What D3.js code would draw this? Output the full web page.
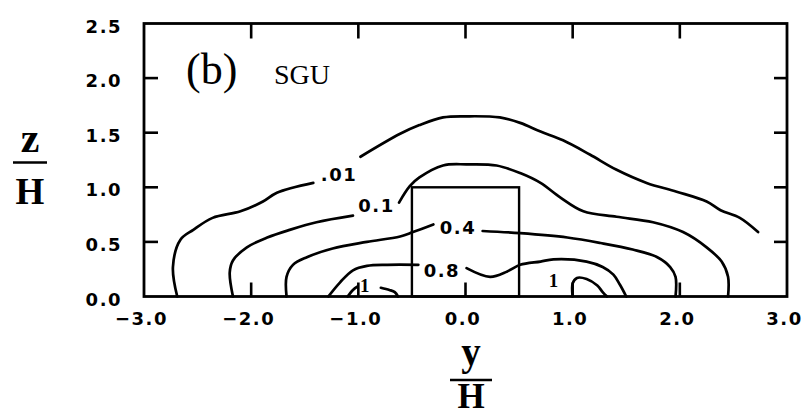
<!DOCTYPE html>
<html>
<head>
<meta charset="utf-8">
<script src="https://cdn.jsdelivr.net/npm/d3@7/dist/d3.min.js"></script>
<style>
  html, body { margin: 0; padding: 0; background: #fff; }
  svg { display: block; }
  .num { font-family: "DejaVu Sans", sans-serif; font-weight: bold; font-size: 18px; letter-spacing: 1.5px; fill: #000; }
  .serif { font-family: "Liberation Serif", "Times New Roman", serif; fill: #000; }
</style>
</head>
<body>
<svg id="chart" width="803" height="415"></svg>
<script>
// Concentration contours (y/H, z/H); null marks a break where a level label sits.
const level001 = [[-2.69,0],[-2.73,0.27],[-2.66,0.52],[-2.54,0.61],[-2.36,0.72],[-2.10,0.78],[-1.89,0.87],[-1.76,0.95],[-1.42,1.04],null,
  [-0.98,1.28],[-0.61,1.49],[-0.43,1.57],[-0.21,1.64],[0.01,1.65],[0.32,1.64],[0.51,1.59],[0.70,1.51],[0.91,1.43],[1.16,1.30],
  [1.41,1.16],[1.69,1.04],[1.97,0.96],[2.25,0.87],[2.38,0.79],[2.56,0.72],[2.73,0.59]];
const level01 = [[-2.17,0],[-2.20,0.22],[-2.17,0.33],[-2.04,0.45],[-1.85,0.54],[-1.64,0.61],[-1.39,0.68],[-1.05,0.74],null,
  [-0.62,0.86],[-0.52,1.01],[-0.43,1.09],[-0.21,1.20],[0.01,1.21],[0.29,1.20],[0.51,1.13],[0.70,1.04],[0.88,0.91],[1.10,0.78],
  [1.41,0.73],[1.75,0.68],[2.03,0.59],[2.25,0.45],[2.39,0.32],[2.45,0.18],[2.45,0]];
const level04 = [[-1.67,0],[-1.67,0.18],[-1.61,0.29],[-1.48,0.36],[-1.24,0.44],[-0.92,0.50],[-0.61,0.55],[-0.49,0.59],[-0.30,0.66],null,
  [0.16,0.60],[0.51,0.58],[0.95,0.54],[1.26,0.49],[1.56,0.43],[1.79,0.36],[1.91,0.27],[1.96,0.18],[1.96,0]];
const level08 = [[-1.28,0],[-1.17,0.13],[-1.05,0.24],[-0.92,0.28],[-0.73,0.29],[-0.44,0.29],null,
  [0.01,0.26],[0.23,0.18],[0.39,0.23],[0.51,0.29],[0.70,0.32],[0.82,0.34],[1.13,0.32],[1.28,0.27],[1.38,0.20],[1.44,0.11],[1.50,0]];
const level1Left = [[-1.10,0],[-1.05,0.06],[-1.01,0.09],null,[-0.79,0.08],[-0.71,0.06],[-0.66,0.04],[-0.63,0]];
const level1Right = [[1.00,0],[1.00,0.12],[1.04,0.17],[1.13,0.16],[1.23,0.10],[1.28,0.04],[1.32,0]];
const contourLines = [level001, level01, level04, level08, level1Left, level1Right];

// Level labels
const labelText = [".01", "0.1", "0.4", "0.8", "1", "1"];
const labelY = [-1.18, -0.83, -0.07, -0.22, -0.94, 0.82];
const labelZ = [1.12, 0.83, 0.63, 0.24, 0.10, 0.15];

// Building outline (y/H from -0.5 to 0.5, height H)
const building = { y0: -0.5, y1: 0.5, z0: 0, z1: 1.0 };

// Axis labels and inner tick marks
const yTicks = [-3, -2, -1, 0, 1, 2, 3];
const zTicks = [0, 0.5, 1.0, 1.5, 2.0, 2.5];
const yMarks = [-2, -1, 0, 1, 2];
const zMarks = [0.5, 1.0, 1.5, 2.0];

const svg = d3.select("#chart");
const x = d3.scaleLinear().domain([-3, 3]).range([144, 787]);
const z = d3.scaleLinear().domain([0, 2.5]).range([296.5, 23.5]);
const fmt = d3.format(".1f");

// Tick labels
const axB = svg.append("g").attr("transform", `translate(0,${z(0)})`)
  .call(d3.axisBottom(x).tickValues(yTicks).tickSize(0).tickPadding(15.5).tickFormat(fmt));
const axL = svg.append("g").attr("transform", `translate(${x(-3)},0)`)
  .call(d3.axisLeft(z).tickValues(zTicks).tickSize(0).tickPadding(22).tickFormat(fmt));
[axB, axL].forEach(g => {
  g.select(".domain").remove();
  g.selectAll(".tick line").remove();
  g.attr("font-size", null).attr("font-family", null);
  g.selectAll(".tick text").attr("class", "num");
});
axB.selectAll(".tick text").attr("dx", "-3");
axL.selectAll(".tick text").attr("dy", "0.48em");

// Frame
svg.append("rect")
  .attr("x", x(-3)).attr("y", z(2.5))
  .attr("width", x(3) - x(-3)).attr("height", z(0) - z(2.5))
  .attr("fill", "none").attr("stroke", "#000").attr("stroke-width", 2.8);

// Inward tick marks on all four sides
const tickG = svg.append("g").attr("stroke", "#000").attr("stroke-width", 2.6);
tickG.selectAll("line.bt").data(yMarks).join("line").attr("class", "bt")
  .attr("x1", d => x(d)).attr("x2", d => x(d)).attr("y1", z(0)).attr("y2", z(0) - 14);
tickG.selectAll("line.tp").data(yMarks).join("line").attr("class", "tp")
  .attr("x1", d => x(d)).attr("x2", d => x(d)).attr("y1", z(2.5)).attr("y2", z(2.5) + 15);
tickG.selectAll("line.lf").data(zMarks).join("line").attr("class", "lf")
  .attr("x1", x(-3)).attr("x2", x(-3) + 14).attr("y1", d => z(d)).attr("y2", d => z(d));
tickG.selectAll("line.rt").data(zMarks).join("line").attr("class", "rt")
  .attr("x1", x(3)).attr("x2", x(3) - 13).attr("y1", d => z(d)).attr("y2", d => z(d));

// Building
svg.append("rect")
  .attr("x", x(building.y0)).attr("y", z(building.z1))
  .attr("width", x(building.y1) - x(building.y0)).attr("height", z(building.z0) - z(building.z1))
  .attr("fill", "none").attr("stroke", "#000").attr("stroke-width", 2.4);

// Contours
const line = d3.line()
  .defined(d => d !== null)
  .x(d => x(d[0])).y(d => z(d[1]))
  .curve(d3.curveCatmullRom.alpha(0.5));

svg.append("g").selectAll("path").data(contourLines).join("path")
  .attr("d", line)
  .attr("fill", "none").attr("stroke", "#000").attr("stroke-width", 2.7)
  .attr("stroke-linejoin", "round").attr("stroke-linecap", "round");

// Level labels
svg.append("g").selectAll("text").data(labelText).join("text")
  .attr("class", d => d === "1" ? "serif" : "num")
  .attr("x", (d, i) => x(labelY[i]))
  .attr("y", (d, i) => z(labelZ[i]))
  .attr("dy", "0.36em")
  .attr("text-anchor", "middle")
  .style("font-weight", "bold")
  .style("font-size", d => d === "1" ? "19px" : null)
  .text(d => d);

// Panel title
svg.append("text").attr("class", "serif").attr("x", 186).attr("y", 84)
  .style("font-size", "44px").text("(b)");
svg.append("text").attr("class", "serif").attr("x", 274).attr("y", 84)
  .style("font-size", "28px").text("SGU");

// Axis titles as stacked fractions
function fraction(cx, numText, numBase, barY, barX0, barX1, denBase, numSize, denSize) {
  const g = svg.append("g");
  g.append("text").attr("class", "serif").attr("x", cx).attr("y", numBase)
    .attr("text-anchor", "middle").style("font-weight", "bold").style("font-size", numSize + "px").text(numText);
  g.append("line").attr("x1", barX0).attr("x2", barX1).attr("y1", barY).attr("y2", barY)
    .attr("stroke", "#000").attr("stroke-width", 2.4);
  g.append("text").attr("class", "serif").attr("x", cx).attr("y", denBase)
    .attr("text-anchor", "middle").style("font-weight", "bold").style("font-size", denSize + "px").text("H");
}
fraction(30, "z", 152, 162.5, 13, 47, 204, 42, 37);
fraction(471, "y", 365, 380, 450, 492, 408, 39, 35);
</script>
</body>
</html>
